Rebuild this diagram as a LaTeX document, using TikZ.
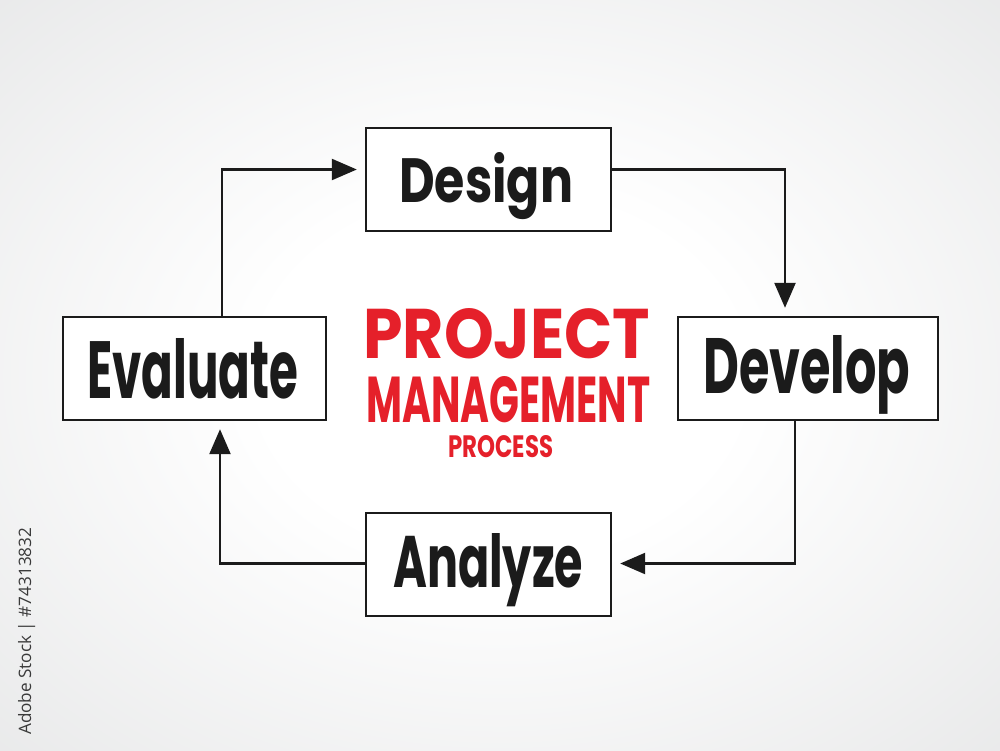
\documentclass[tikz,border=0pt]{standalone}
\usepackage{fontspec}
\setmainfont{Poppins}
\newfontfamily\creditfont{Open Sans}
\usepackage{graphicx}
\usetikzlibrary{arrows.meta}
\definecolor{ink}{HTML}{1B1B1B}
\definecolor{pmred}{HTML}{E5202A}
\definecolor{bggray}{HTML}{DCDDDE}
\definecolor{credit}{HTML}{3A3A3A}
\pgfdeclareradialshading{bgshade}{\pgfpoint{0bp}{0bp}}{color(0bp)=(white); color(12bp)=(white); color(50bp)=(bggray); color(75bp)=(bggray)}
\begin{document}
\begin{tikzpicture}[x=1pt,y=-1pt,
  box/.style={draw=ink, line width=2.4pt, fill=white, inner sep=0pt},
  lbl/.style={inner sep=0pt, text=ink, anchor=base west},
  title/.style={inner sep=0pt, text=pmred, anchor=base west},
  conn/.style={draw=ink, line width=2.4pt, -{Triangle[length=25pt,width=21pt]}, shorten >=8pt}]
\useasboundingbox (0,0) rectangle (1000,750);
\shade[shading=bgshade] (0,0) rectangle (1000,750);

% boxes
\node[box, minimum width=245pt, minimum height=103pt] (des) at (488.5,179.5) {};
\node[box, minimum width=260pt, minimum height=103pt] (dev) at (808,368.5) {};
\node[box, minimum width=245pt, minimum height=103pt] (an)  at (488.5,564.5) {};
\node[box, minimum width=263pt, minimum height=103pt] (ev)  at (194.5,368.5) {};

% labels
\node[lbl] (desT) at (399,202) {\resizebox{174pt}{50pt}{\bfseries Design}};
\node[lbl] (devT) at (703,393) {\resizebox{207pt}{58pt}{\bfseries Develop}};
\node[lbl] (anT)  at (393,587) {\resizebox{190pt}{54pt}{\bfseries Analyze}};
\node[lbl] (evT)  at (87,398)  {\resizebox{211pt}{60pt}{\bfseries Evaluate}};

% title
\node[title] (t1) at (363,358) {\resizebox{287pt}{50pt}{\bfseries PROJECT}};
\node[title] (t2) at (366,422) {\resizebox{284pt}{46pt}{\bfseries MANAGEMENT}};
\node[title] (t3) at (448,457) {\resizebox{105pt}{22pt}{\bfseries PROCESS}};

% connectors
\draw[conn] ([xshift=27.5pt]ev.north) |- ([yshift=10pt]des.west);
\draw[conn] ([yshift=10pt]des.east) -| ([xshift=-23pt]dev.north);
\draw[conn] ([xshift=-13pt]dev.south) |- ([yshift=1pt]an.east);
\draw[conn] ([yshift=1pt]an.west) -| ([xshift=25.5pt]ev.south);

% credit
\node[inner sep=0pt, rotate=90, anchor=base west, text=credit] (cred) at (31,735)
  {\resizebox{207pt}{!}{\creditfont Adobe Stock | \#74313832}};
\end{tikzpicture}
\end{document}
